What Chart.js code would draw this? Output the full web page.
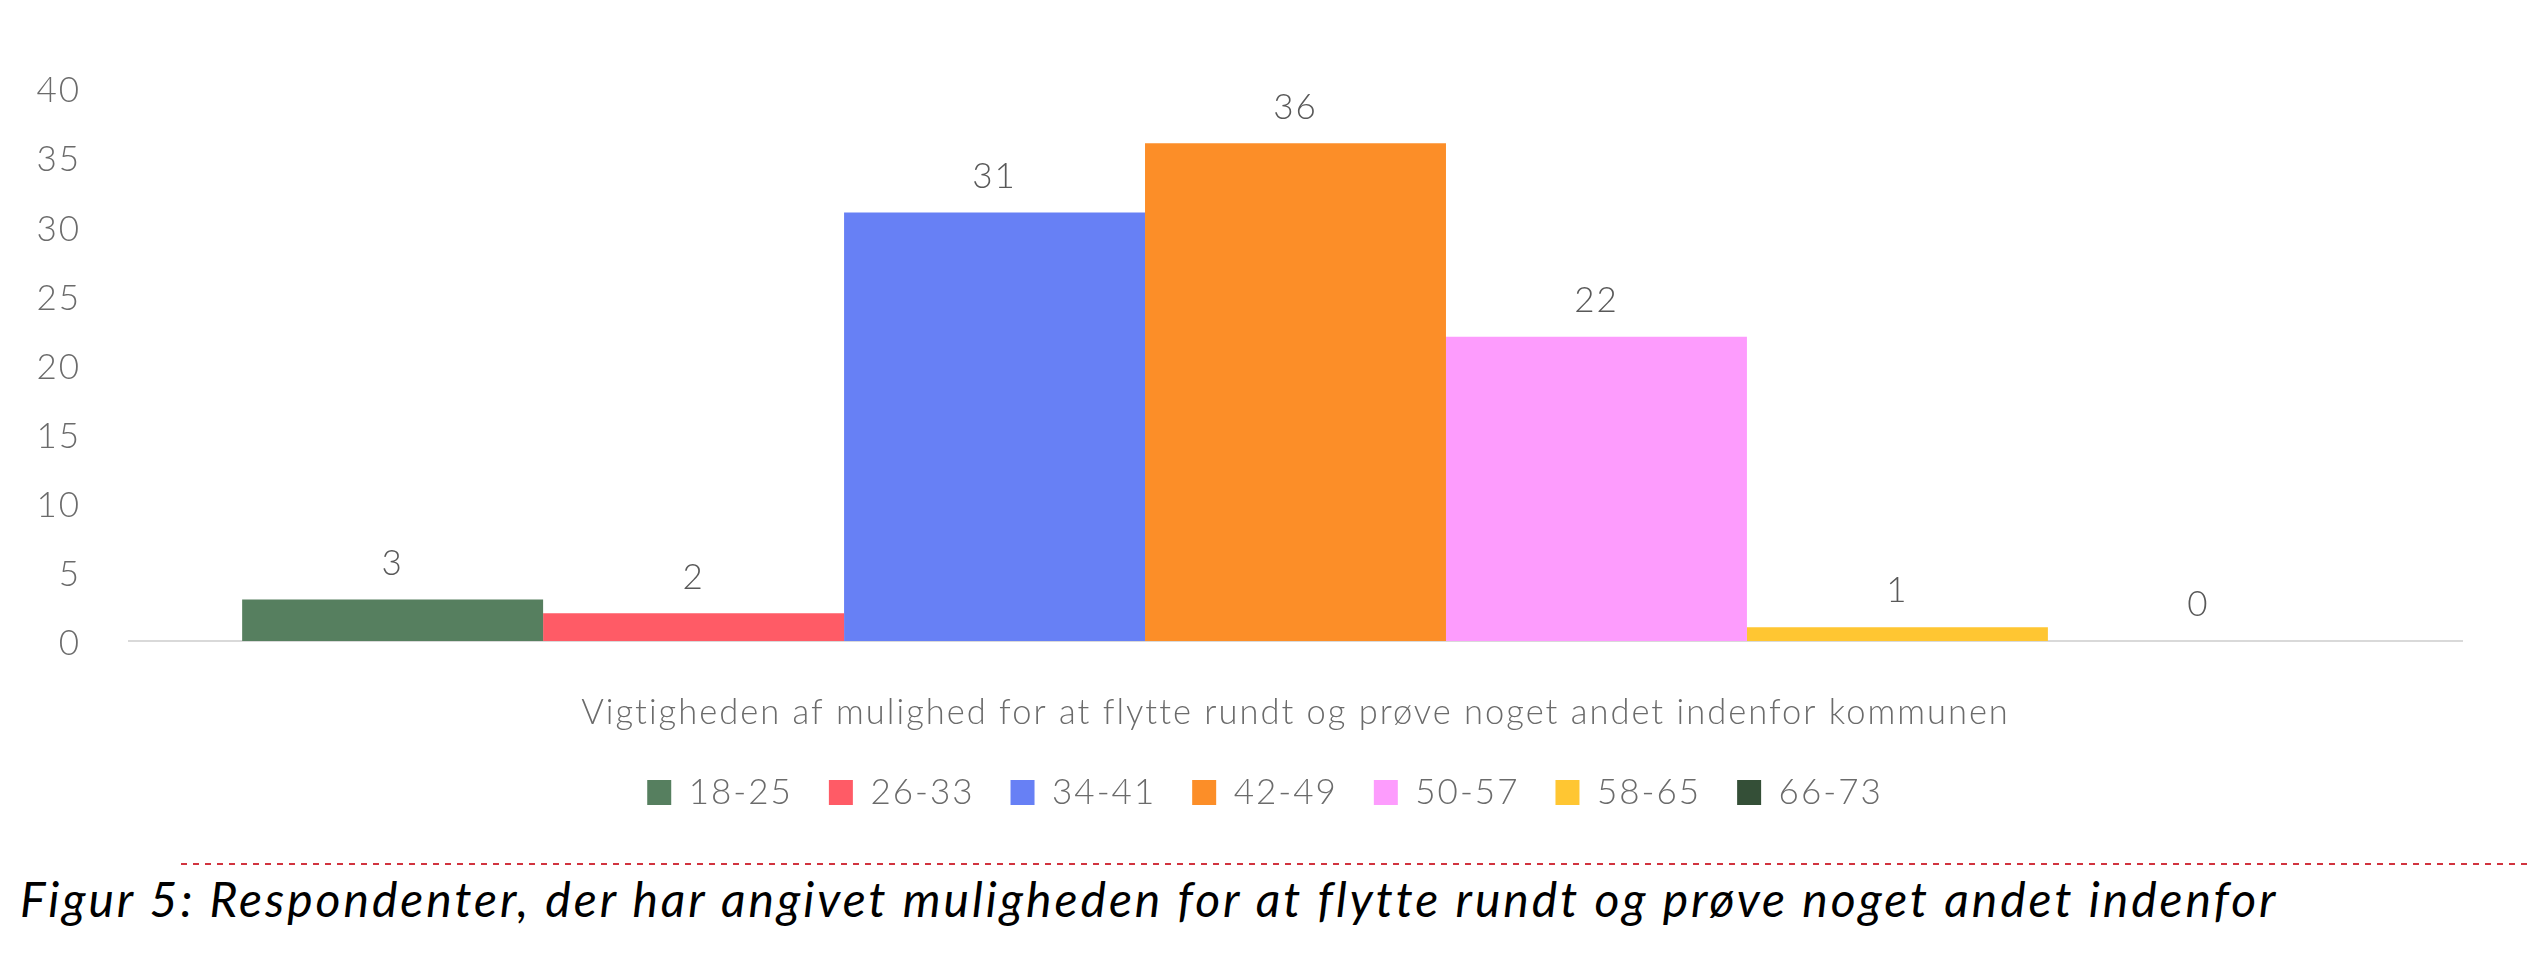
<!DOCTYPE html>
<html>
<head>
<meta charset="utf-8">
<script src="https://cdn.jsdelivr.net/npm/chart.js@4"></script>
<style>
  html, body { margin: 0; padding: 0; background: #fff; }
  body { width: 2530px; height: 978px; position: relative; overflow: hidden; }
  #wrap { position: absolute; left: 0; top: 0; width: 2530px; height: 820px; }
  #dash {
    position: absolute; left: 181px; right: 0; top: 863px; height: 2px;
    background-image: repeating-linear-gradient(to right, #d1343f 0 6px, transparent 6px 12px);
  }
  #caption {
    position: absolute; left: 20px; top: 869px;
    font-family: "Lato", sans-serif; font-style: italic; font-size: 48px;
    letter-spacing: 3px; line-height: 60px; color: #000; white-space: nowrap;
  }
</style>
</head>
<body>
<div id="wrap"><canvas id="myChart"></canvas></div>
<div id="dash"></div>
<div id="caption">Figur 5: Respondenter, der har angivet muligheden for at flytte rundt og prøve noget andet indenfor</div>
<script>
  // data
  let categories = ["Vigtigheden af mulighed for at flytte rundt og prøve noget andet indenfor kommunen"];
  let ageGroups = ["18-25", "26-33", "34-41", "42-49", "50-57", "58-65", "66-73"];
  let counts = [3, 2, 31, 36, 22, 1, 0];
  let colors = ["#567f5f", "#ff5b66", "#6780f5", "#fc8e28", "#fd9cfd", "#ffc632", "#344f37"];
  let yTicks = [0, 5, 10, 15, 20, 25, 30, 35, 40];

  // the original font is a wide geometric one, so space the letters out a bit
  const spacing = {
    id: "spacing",
    beforeLayout(chart) {
      chart.ctx.letterSpacing = "2px";
    },
    beforeDraw(chart) {
      chart.ctx.letterSpacing = "2px";
    },
  };

  // value labels above the bars
  const valueLabels = {
    id: "valueLabels",
    afterDatasetsDraw(chart) {
      const c = chart.ctx;
      c.save();
      c.font = "300 35px Lato";
      c.fillStyle = "#595959";
      c.textAlign = "center";
      c.textBaseline = "middle";
      chart.data.datasets.forEach((ds, i) => {
        const meta = chart.getDatasetMeta(i);
        meta.data.forEach((bar, j) => {
          c.fillText(ds.data[j], bar.x, bar.y - 36);
        });
      });
      c.restore();
    },
  };

  var datasets = [];
  for (i = 0; i < ageGroups.length; i++) {
    datasets.push({
      label: ageGroups[i],
      data: [counts[i]],
      backgroundColor: colors[i],
      borderWidth: 0,
    });
  }

  var ctx = document.getElementById("myChart").getContext("2d");
  var chart = new Chart(ctx, {
    type: "bar",
    data: {
      labels: categories,
      datasets: datasets,
    },
    options: {
      responsive: true,
      maintainAspectRatio: false,
      animation: false,
      datasets: {
        bar: {
          barPercentage: 1,
          categoryPercentage: 0.903,
        },
      },
      layout: {
        padding: { top: 88, left: 0, right: 0, bottom: 0 },
      },
      scales: {
        x: {
          grid: { display: true, color: "rgba(0,0,0,0)", drawTicks: false },
          border: { display: true, color: "#d9d9d9", width: 2 },
          ticks: {
            padding: 51,
            color: "#6b6b6b",
            font: { family: "Lato", size: 34.5, weight: "300" },
          },
          afterFit: (scale) => {
            scale.height = 98;
          },
        },
        y: {
          min: 0,
          max: 40,
          afterBuildTicks: (scale) => {
            scale.ticks = yTicks.map((v) => ({ value: v }));
          },
          grid: { display: false, drawTicks: false },
          border: { display: false },
          ticks: {
            padding: 48,
            labelOffset: 3,
            color: "#6b6b6b",
            font: { family: "Lato", size: 35, weight: "300" },
          },
          afterFit: (scale) => {
            scale.width = 129;
          },
        },
        // empty axis, only keeps the right margin
        yRight: {
          type: "linear",
          position: "right",
          grid: { display: false, drawTicks: false },
          border: { display: false },
          ticks: { display: false },
          afterFit: (scale) => {
            scale.width = 68;
          },
        },
      },
      plugins: {
        legend: {
          position: "bottom",
          labels: {
            boxWidth: 24,
            boxHeight: 25,
            padding: 36,
            color: "#6b6b6b",
            font: { family: "Lato", size: 35, weight: "300" },
          },
        },
        tooltip: { enabled: false },
      },
    },
    plugins: [spacing, valueLabels],
  });
</script>
</body>
</html>
